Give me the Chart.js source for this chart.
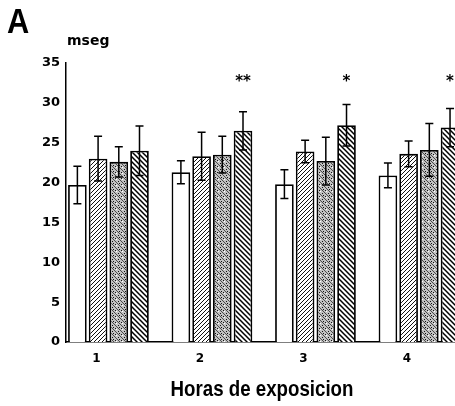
<!DOCTYPE html>
<html>
<head>
<meta charset="utf-8">
<script src="https://cdn.jsdelivr.net/npm/chart.js@4/dist/chart.umd.min.js"></script>
<style>
  html, body { margin: 0; padding: 0; background: #fff; overflow: hidden; }
  #wrap { position: relative; width: 455px; height: 406px; }
</style>
</head>
<body>
<div id="wrap"><canvas id="chart"></canvas></div>
<script>
// --- data ---
const hours = ['1', '2', '3', '4'];
const serie1 = [19.7, 21.3, 19.8, 20.9];
const serie2 = [23.0, 23.3, 23.9, 23.6];
const serie3 = [22.6, 23.5, 22.7, 24.1];
const serie4 = [24.0, 26.5, 27.2, 26.9];
const sd1 = [2.35, 1.45, 1.8, 1.55];
const sd2 = [2.8, 3.0, 1.4, 1.6];
const sd3 = [1.9, 2.3, 3.0, 3.3];
const sd4 = [3.1, 2.4, 2.6, 2.4];
const signif = ['', '**', '*', '*'];
const yTicks = [0, 5, 10, 15, 20, 25, 30, 35];
const xTitle = 'Horas de exposicion';

// --- fill patterns (scanned print look) ---
function makePattern(size, draw) {
    const c = document.createElement('canvas');
    c.width = size; c.height = size;
    const g = c.getContext('2d');
    g.fillStyle = '#fff';
    g.fillRect(0, 0, size, size);
    draw(g, size);
    return g.createPattern(c, 'repeat');
}

const hatchUp = makePattern(4, (g, s) => {
    g.strokeStyle = '#111'; g.lineWidth = 1;
    g.beginPath();
    g.moveTo(0, s); g.lineTo(s, 0);
    g.moveTo(-1, 1); g.lineTo(1, -1);
    g.moveTo(s - 1, s + 1); g.lineTo(s + 1, s - 1);
    g.stroke();
});

const hatchDown = makePattern(5, (g, s) => {
    g.strokeStyle = '#000'; g.lineWidth = 1.5;
    g.beginPath();
    g.moveTo(0, 0); g.lineTo(s, s);
    g.moveTo(-1, s - 1); g.lineTo(1, s + 1);
    g.moveTo(s - 1, -1); g.lineTo(s + 1, 1);
    g.stroke();
});

const stipple = makePattern(6, (g, s) => {
    g.fillStyle = '#c2c2c2';
    g.fillRect(0, 0, s, s);
    g.strokeStyle = '#4a4a4a'; g.lineWidth = 1;
    g.beginPath();
    g.moveTo(0, 0); g.lineTo(s, s);
    g.moveTo(-1, s - 1); g.lineTo(1, s + 1);
    g.moveTo(s - 1, -1); g.lineTo(s + 1, 1);
    g.stroke();
    g.fillStyle = '#111';
    g.fillRect(4, 1, 1, 1);
    g.fillRect(1, 4, 1, 1);
    g.fillRect(5, 3, 1, 1);
    g.fillStyle = '#fff';
    g.fillRect(2, 5, 1, 1);
});

const series = [
    { label: 'Serie 1', values: serie1, sd: sd1, fill: '#fff' },
    { label: 'Serie 2', values: serie2, sd: sd2, fill: hatchUp },
    { label: 'Serie 3', values: serie3, sd: sd3, fill: stipple },
    { label: 'Serie 4', values: serie4, sd: sd4, fill: hatchDown }
];

// condensed bold text (no narrow face installed, so squeeze Liberation Sans)
function narrowText(ctx, text, x, y, size, squeeze, align) {
    ctx.save();
    ctx.font = 'bold ' + size + 'px "Liberation Sans"';
    ctx.textAlign = align;
    ctx.textBaseline = 'alphabetic';
    ctx.translate(x, y);
    ctx.scale(squeeze, 1);
    ctx.fillText(text, 0, 0);
    ctx.restore();
}

// error bars, asterisks, panel letter, unit and axis title
const extras = {
    id: 'extras',
    afterDatasetsDraw(chart) {
        const ctx = chart.ctx;
        const y = chart.scales.y;
        ctx.save();
        ctx.strokeStyle = '#000';
        ctx.lineWidth = 1.5;
        series.forEach((s, di) => {
            chart.getDatasetMeta(di).data.forEach((bar, i) => {
                const top = y.getPixelForValue(s.values[i] + s.sd[i]);
                const bot = y.getPixelForValue(s.values[i] - s.sd[i]);
                ctx.beginPath();
                ctx.moveTo(bar.x, top); ctx.lineTo(bar.x, bot);
                ctx.moveTo(bar.x - 4, top); ctx.lineTo(bar.x + 4, top);
                ctx.moveTo(bar.x - 4, bot); ctx.lineTo(bar.x + 4, bot);
                ctx.stroke();
            });
        });
        ctx.fillStyle = '#000';
        ctx.font = 'bold 15px "DejaVu Sans"';
        ctx.textAlign = 'center';
        ctx.textBaseline = 'middle';
        const last = chart.getDatasetMeta(series.length - 1).data;
        signif.forEach((m, i) => {
            if (m) ctx.fillText(m, last[i].x, y.getPixelForValue(32.6));
        });
        ctx.restore();
    },
    afterDraw(chart) {
        const ctx = chart.ctx;
        ctx.save();
        ctx.fillStyle = '#000';
        narrowText(ctx, 'A', 7, 33, 35, 0.88, 'left');
        ctx.font = 'bold 14px "DejaVu Sans"';
        ctx.textAlign = 'left';
        ctx.fillText('mseg', 67, 45);
        narrowText(ctx, xTitle, 262, 396, 22, 0.85, 'center');
        ctx.restore();
    }
};

new Chart(document.getElementById('chart'), {
    type: 'bar',
    data: {
        datasets: series.map(s => ({
            label: s.label,
            data: s.values.map((v, i) => ({ x: i + 1, y: v })),
            backgroundColor: s.fill,
            borderColor: '#000',
            borderWidth: 1.8,
            borderSkipped: 'bottom',
            categoryPercentage: 0.8,
            barPercentage: 0.9
        }))
    },
    options: {
        responsive: true,
        maintainAspectRatio: false,
        animation: false,
        layout: { padding: { top: 63, left: 0, right: 0, bottom: 0 } },
        plugins: {
            legend: { display: false },
            tooltip: { enabled: false }
        },
        scales: {
            x: {
                type: 'linear',
                min: 0.59,
                max: 4.348,
                offset: false,
                grid: { display: false, drawTicks: false },
                border: { display: true, color: '#000', width: 1.5 },
                afterBuildTicks: scale => {
                    scale.ticks = hours.map((h, i) => ({ value: i + 1 }));
                },
                afterFit: scale => { scale.height = 64; },
                ticks: {
                    color: '#000',
                    font: { family: 'DejaVu Sans', weight: 'bold', size: 12 },
                    padding: 10,
                    labelOffset: -12,
                    maxRotation: 0,
                    callback: value => hours[value - 1]
                }
            },
            y: {
                min: 0,
                max: 35,
                grid: { display: false, drawTicks: false },
                border: { display: true, color: '#000', width: 1.5 },
                afterBuildTicks: scale => {
                    scale.ticks = yTicks.map(v => ({ value: v }));
                },
                afterFit: scale => { scale.width = 66; },
                ticks: {
                    color: '#000',
                    font: { family: 'DejaVu Sans', weight: 'bold', size: 13 },
                    padding: 6
                }
            }
        }
    },
    plugins: [extras]
});
</script>
</body>
</html>
